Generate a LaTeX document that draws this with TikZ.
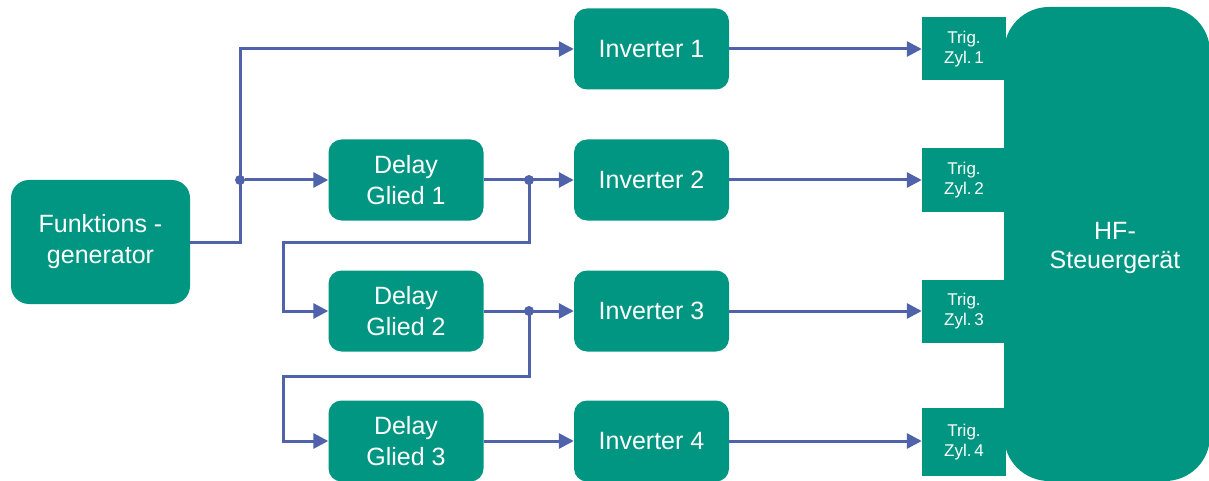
\documentclass[tikz,border=0pt]{standalone}
\usepackage{fontspec}
\setmainfont{Liberation Sans}
\usetikzlibrary{arrows.meta}
\usetikzlibrary{positioning}
\definecolor{mgreen}{RGB}{0,150,129}
\definecolor{mblue}{RGB}{79,98,170}
\tikzset{blk/.style = {fill=mgreen, text=white, rounded corners=13, inner sep=0,
                       minimum width=155, minimum height=81, align=center,
                       font=\fontsize{25}{31}\selectfont}}
\tikzset{trig/.style = {fill=mgreen, text=white, inner sep=0,
                        minimum width=84, minimum height=63, align=center,
                        font=\fontsize{17}{20}\selectfont}}
\tikzset{wire/.style = {draw=mblue, line width=3}}
\tikzset{->/.style = {wire, -{Triangle[length=15pt, width=15pt]}}}
\tikzset{dot/.style = {fill=mblue, circle, inner sep=0, minimum size=10}}

\begin{document}
\begin{tikzpicture}[x=1pt, y=-1pt]
        \useasboundingbox (0, 0) rectangle (1209, 481);

        % control unit with the four trigger inputs
        \node [blk, rounded corners=45, minimum width=206, minimum height=474] (hf) at (1107, 244) {};
        \node [text=white, align=center, font=\fontsize{25}{29}\selectfont] (hflabel) at (1115, 248) {HF-\\Steuergerät};
        \node [trig] (t1) at (964, 49) {Trig.\\Zyl.\,1};
        \node [trig] (t2) at (964, 180) {Trig.\\Zyl.\,2};
        \node [trig] (t3) at (964, 311) {Trig.\\Zyl.\,3};
        \node [trig, minimum height=68] (t4) at (964, 442) {Trig.\\Zyl.\,4};

        \node [blk, rounded corners=18, minimum width=179, minimum height=124] (fg) at (100.5, 242) {Funktions -\\generator};

        \node [blk] (d1) at (406, 180) {Delay\\Glied 1};
        \node [blk] (d2) at (406, 311) {Delay\\Glied 2};
        \node [blk] (d3) at (406, 441) {Delay\\Glied 3};

        \node [blk] (inv1) at (651.5, 49) {Inverter 1};
        \node [blk] (inv2) at (651.5, 180) {Inverter 2};
        \node [blk] (inv3) at (651.5, 311) {Inverter 3};
        \node [blk] (inv4) at (651.5, 441) {Inverter 4};

        \node [dot] (j1) at (240, 180) {};
        \node [dot] (j2) at (529, 180) {};
        \node [dot] (j3) at (529, 311) {};
        \coordinate (k1) at (283, 242);
        \coordinate (k2) at (283, 376);

        \draw [->] (fg.east) -| (j1.center) |- (inv1.west);
        \draw [->] (j1) -- (d1.west);

        \draw [->] (d1.east) -- (inv2.west);
        \draw [->] (j2.center) |- (k1) |- (d2.west);
        \draw [->] (d2.east) -- (inv3.west);
        \draw [->] (j3.center) |- (k2) |- (d3.west);
        \draw [->] (d3.east) -- (inv4.west);

        \draw [->] (inv1.east) -- (t1.west);
        \draw [->] (inv2.east) -- (t2.west);
        \draw [->] (inv3.east) -- (t3.west);
        \draw [->] (inv4.east) -- (t4.west |- inv4.east);
\end{tikzpicture}
\end{document}
